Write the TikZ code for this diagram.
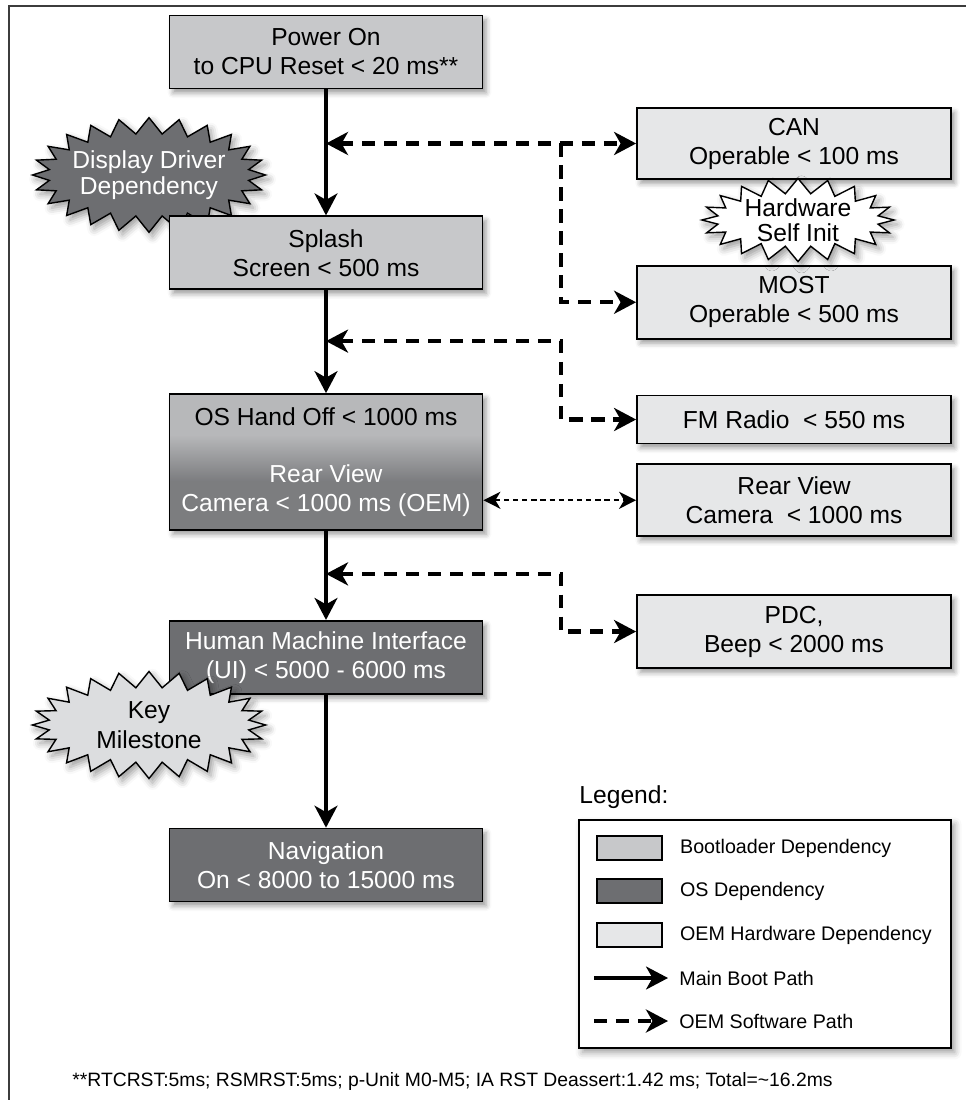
\documentclass[tikz,border=0pt]{standalone}
\usepackage{fontspec}
\setmainfont{Liberation Sans}
\usepackage{tikz}
\usetikzlibrary{shapes.symbols,arrows.meta,positioning,calc,shadows.blur}
\definecolor{bootgray}{HTML}{C7C8CA}
\definecolor{osdark}{HTML}{6D6E71}
\definecolor{oemlight}{HTML}{E6E7E8}
\definecolor{milegray}{HTML}{DCDDDF}
\definecolor{framegray}{HTML}{3C3C3C}
\pgfdeclareverticalshading{oshandoff}{100bp}{color(0bp)=(osdark!90!white); color(43bp)=(osdark!90!white); color(60bp)=(bootgray!92!black); color(100bp)=(bootgray!92!black)}
\tikzstyle{boxbase} = [rectangle, draw=black, line width=1pt, minimum width=6.26cm,
    minimum height=1.46cm, align=center, font=\fontsize{14}{16.5}\selectfont,
    blur shadow={shadow xshift=2pt, shadow yshift=-2.5pt, shadow blur radius=3pt, shadow opacity=40}]
\tikzstyle{bootbox} = [boxbase, fill=bootgray]
\tikzstyle{osbox} = [boxbase, fill=osdark, text=white]
\tikzstyle{oembox} = [boxbase, fill=oemlight, minimum width=6.28cm]
\tikzstyle{burst} = [starburst, starburst points=24, starburst point height=0.32cm, random starburst=0,
    draw=black, line width=0.8pt, align=center, font=\fontsize{14}{14.5}\selectfont,
    minimum width=0pt, minimum height=0pt, inner xsep=-0.11cm, inner ysep=0.1cm,
    blur shadow={shadow xshift=2pt, shadow yshift=-2.5pt, shadow blur radius=4pt, shadow opacity=40}]
\tikzstyle{mainarrow} = [-{Stealth[length=4.4mm, width=4.6mm, inset=1.3mm]}, line width=1.8pt]
\tikzstyle{swpath} = [>={Stealth[length=4.4mm, width=4.6mm, inset=1.3mm]}, line width=2.4pt, dash pattern=on 7.5pt off 5pt]
\tikzstyle{campath} = [>={Stealth[length=3.4mm, width=3.4mm, inset=1mm]}, line width=1.1pt, dash pattern=on 3pt off 2.2pt]
\tikzstyle{lgswatch} = [rectangle, draw=black, line width=0.9pt, minimum width=1.3cm, minimum height=0.48cm]
\tikzstyle{lglabel} = [anchor=west, font=\fontsize{11.2}{13}\selectfont, inner sep=0pt]

\begin{document}
\begin{tikzpicture}
\useasboundingbox (0,0) rectangle (19.32,-22);
\draw[framegray, line width=1.2pt] (0.18,-22.5) -- (0.18,-0.12) -- (19.8,-0.12);

% main boot path
\node[bootbox] (pwr) at (6.52,-1.04) {Power On\\to CPU Reset < 20 ms**};
\node[burst, fill=osdark, text=white] (dispdrv) at (2.98,-3.5) {Display Driver\\Dependency};
\node[bootbox, below=2.52cm of pwr] (splash) {Splash\\Screen < 500 ms};
\node[osbox, shade, shading=oshandoff, minimum height=2.72cm, below=2.06cm of splash] (oshand)
    {{\color{black}OS Hand Off < 1000 ms}\\[0.56cm]Rear View\\Camera < 1000 ms (OEM)};
\node[osbox, below=1.78cm of oshand] (hmi) {Human Machine Interface\\(UI) < 5000 - 6000 ms};
\node[osbox, below=2.66cm of hmi] (nav) {Navigation\\On < 8000 to 15000 ms};

\draw[mainarrow] (pwr) -- (splash);
\draw[mainarrow] (splash) -- (oshand);
\draw[mainarrow] (oshand) -- (hmi);
\draw[mainarrow] (hmi) -- (nav);

% OEM hardware
\node[oembox, minimum height=1.42cm] (can) at (15.88,-2.87) {CAN\\Operable < 100 ms};
\node[oembox, below=1.7cm of can] (most) {MOST\\Operable < 500 ms};
\node[oembox, minimum height=0.96cm, below=1.1cm of most] (fm) {FM Radio~ < 550 ms};
\node[oembox, minimum height=1.44cm, below=0.38cm of fm] (rvc) {Rear View\\Camera~ < 1000 ms};
\node[oembox, below=1.14cm of rvc] (pdc) {PDC,\\Beep < 2000 ms};

% software paths
\coordinate (j1) at ($(can.west)+(-1.5,0)$);
\coordinate (m1) at (pwr.south |- can.west);
\coordinate (m2) at ($(splash.south)+(0,-1.02)$);
\coordinate (j2) at (j1 |- m2);
\coordinate (m3) at ($(oshand.south)+(0,-0.86)$);
\coordinate (j3) at (j1 |- m3);
\draw[swpath,<->] (m1) -- (can.west);
\draw[swpath,->] (j1) |- (most.west);
\draw[swpath,<->] (m2) -- (j2) |- (fm.west);
\draw[swpath,<->] (m3) -- (j3) |- (pdc.west);
\draw[campath,<->] (oshand.east |- rvc.west) -- (rvc.west);

% callouts
\node[burst, fill=white, starburst points=20, starburst point height=0.3cm, inner xsep=0.08cm, inner ysep=-0.06cm] (hwinit) at (15.96,-4.4) {Hardware\\Self Init};
\node[burst, fill=milegray, font=\fontsize{14}{17}\selectfont, inner xsep=0.37cm, inner ysep=0.06cm] (keyms) at (2.98,-14.5) {Key\\Milestone};

% legend
\node[rectangle, draw=black, line width=1pt, fill=white, minimum width=7.44cm, minimum height=4.56cm,
    blur shadow={shadow xshift=2pt, shadow yshift=-2.5pt, shadow blur radius=4pt, shadow opacity=40}] (lgbox) at (15.3,-18.68) {};
\node[anchor=south west, inner sep=0pt, font=\fontsize{14}{16.5}\selectfont] (lgtitle) at ($(lgbox.north west)+(0.02,0.2)$) {Legend:};
\node[lgswatch, fill=bootgray] (lgboot) at (12.59,-16.96) {};
\node[lgswatch, fill=osdark] (lgos) at (12.59,-17.82) {};
\node[lgswatch, fill=oemlight] (lgoem) at (12.59,-18.70) {};
\coordinate (lgms) at (11.88,-19.56);
\coordinate (lgme) at (13.36,-19.56);
\coordinate (lgss) at (11.88,-20.42);
\coordinate (lgse) at (13.36,-20.42);
\draw[mainarrow] (lgms) -- (lgme);
\draw[swpath,->] (lgss) -- (lgse);
\node[lglabel, right=0.34cm of lgboot] {Bootloader Dependency};
\node[lglabel, right=0.34cm of lgos] {OS Dependency};
\node[lglabel, right=0.34cm of lgoem] {OEM Hardware Dependency};
\node[lglabel, right=0.22cm of lgme] {Main Boot Path};
\node[lglabel, right=0.22cm of lgse] {OEM Software Path};

% footnote
\node[anchor=west, inner sep=0pt, font=\fontsize{11}{13}\selectfont] (note) at (1.44,-21.62)
    {**RTCRST:5ms; RSMRST:5ms; p-Unit M0-M5; IA RST Deassert:1.42 ms; Total=\textasciitilde16.2ms};
\end{tikzpicture}
\end{document}
